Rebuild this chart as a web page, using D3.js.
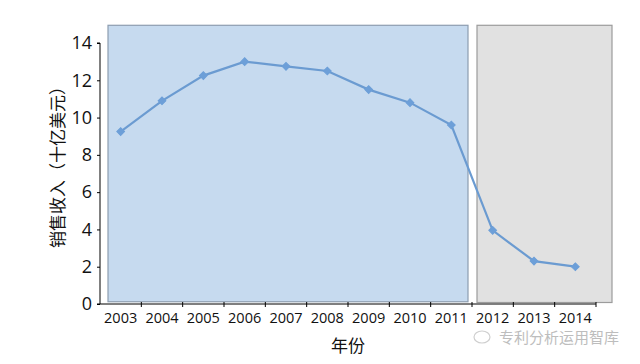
<!DOCTYPE html>
<html><head><meta charset="utf-8">
<script src="https://cdn.jsdelivr.net/npm/d3@7"></script>
<style>body{margin:0;background:#fff;}svg{display:block;}</style>
</head><body>
<script>
const years = ["2003","2004","2005","2006","2007","2008","2009","2010","2011","2012","2013","2014"];
const revenue = [9.25, 10.9, 12.25, 13.0, 12.75, 12.5, 11.5, 10.8, 9.6, 3.95, 2.3, 2.0];
const yTicks = [0, 2, 4, 6, 8, 10, 12, 14];
const yTitle = "销售收入（十亿美元）";
const xTitle = "年份";
const watermark = "专利分析运用智库";

const W = 640, H = 364;
const svg = d3.select("body").append("svg").attr("width", W).attr("height", H);
const font = "'Open Sans', 'Noto Sans', sans-serif";

const x = d3.scaleBand().domain(years).range([100, 596]).padding(0);
const y = d3.scaleLinear().domain([0, 14]).range([304, 43]);

// background panels
const split = x("2012");
svg.append("rect")
  .attr("x", x("2003") + 8).attr("y", y(14.95))
  .attr("width", split - 4 - (x("2003") + 8)).attr("height", y(0.12) - y(14.95))
  .attr("fill", "#c6daef").attr("stroke", "#8d9db0").attr("stroke-width", 1.2);
svg.append("rect")
  .attr("x", split + 5).attr("y", y(14.95))
  .attr("width", 596 + 16 - (split + 5)).attr("height", y(0.08) - y(14.95))
  .attr("fill", "#e1e1e1").attr("stroke", "#9c9c9c").attr("stroke-width", 1.2);

// y axis
const yAxis = d3.axisLeft(y).tickValues(yTicks).tickSize(3).tickPadding(5);
const gy = svg.append("g").attr("transform", "translate(100,0)").call(yAxis);
gy.select(".domain").attr("stroke", "#000").attr("d", `M-3,${y(14)}H0V${y(0)}H-3`);
gy.selectAll(".tick line").attr("stroke", "#000");
gy.selectAll("text").attr("font-family", font).attr("font-size", 18).attr("fill", "#111");

// x axis: ticks at band boundaries
const gx = svg.append("g").attr("transform", `translate(0,${y(0)})`);
gx.append("line").attr("x1", 100).attr("x2", 596).attr("y1", 0).attr("y2", 0).attr("stroke", "#000");
gx.selectAll("line.tk").data(years.slice(1).concat(["end"])).enter().append("line")
  .attr("class", "tk")
  .attr("x1", d => d === "end" ? 596 : x(d)).attr("x2", d => d === "end" ? 596 : x(d))
  .attr("y1", -2).attr("y2", 3).attr("stroke", "#000");
gx.selectAll("text").data(years).enter().append("text")
  .attr("x", d => x(d) + x.bandwidth() / 2).attr("y", 19)
  .attr("text-anchor", "middle").attr("font-family", font).attr("font-size", 14.5).attr("fill", "#111")
  .text(d => d);

// line
const line = d3.line().x((d, i) => x(years[i]) + x.bandwidth() / 2).y(d => y(d));
svg.append("path").datum(revenue).attr("d", line)
  .attr("fill", "none").attr("stroke", "#6b9bd1").attr("stroke-width", 2.2);
svg.selectAll("path.pt").data(revenue).enter().append("path")
  .attr("class", "pt")
  .attr("transform", (d, i) => `translate(${x(years[i]) + x.bandwidth() / 2},${y(d)}) rotate(45)`)
  .attr("d", d3.symbol().type(d3.symbolSquare).size(30))
  .attr("fill", "#6d9fd8").attr("stroke", "#6d9fd8").attr("stroke-width", 1);

// titles
svg.append("text").attr("transform", `translate(64,163) rotate(-90)`)
  .attr("text-anchor", "middle").attr("font-family", "'Noto Sans CJK SC', sans-serif")
  .attr("font-size", 17).attr("fill", "#111").text(yTitle);
svg.append("text").attr("x", 348).attr("y", 352)
  .attr("text-anchor", "middle").attr("font-family", "'Noto Sans CJK SC', sans-serif")
  .attr("font-size", 17).attr("fill", "#111").text(xTitle);

// watermark
svg.append("text").attr("x", 619).attr("y", 343)
  .attr("text-anchor", "end").attr("font-family", "'Noto Sans CJK SC', sans-serif")
  .attr("font-size", 15).attr("fill", "#bdbdbd").text(watermark);
svg.append("ellipse").attr("cx", 482).attr("cy", 337).attr("rx", 8).attr("ry", 6)
  .attr("fill", "none").attr("stroke", "#cfcfcf").attr("stroke-width", 1.2);
</script>
</body></html>
